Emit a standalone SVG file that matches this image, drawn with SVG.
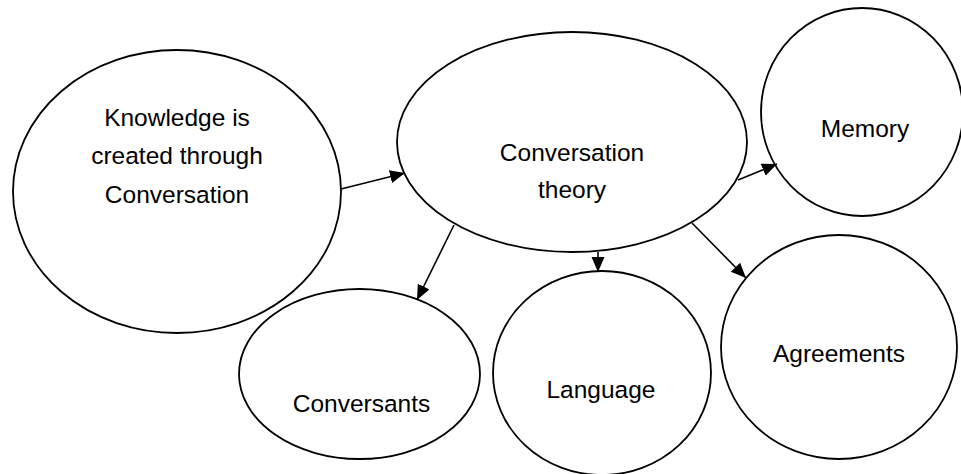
<svg xmlns="http://www.w3.org/2000/svg" width="961" height="474" viewBox="0 0 961 474">
  <style>
    .node ellipse { fill: #ffffff; stroke: #000000; stroke-width: 1.8; }
    .node text { font-family: "Liberation Sans", Arial, sans-serif; font-size: 24.5px; fill: #000000; text-anchor: middle; }
    .edge { stroke: #000000; stroke-width: 1.6; fill: none; marker-end: url(#arrow); }
  </style>
  <defs>
    <marker id="arrow" markerUnits="userSpaceOnUse" markerWidth="16" markerHeight="14" refX="15" refY="6.5" orient="auto">
      <path d="M0,0 L15,6.5 L0,13 z" fill="#000000"/>
    </marker>
  </defs>
  <rect width="961" height="474" fill="#ffffff"/>

  <g id="knowledge" class="node">
    <ellipse cx="177" cy="191.5" rx="164" ry="141.5"/>
    <text x="177" y="126">Knowledge is</text>
    <text x="177" y="164">created through</text>
    <text x="177" y="203">Conversation</text>
  </g>

  <g id="conversation-theory" class="node">
    <ellipse cx="572" cy="142" rx="175" ry="110"/>
    <text x="572" y="161">Conversation</text>
    <text x="572" y="198">theory</text>
  </g>

  <g id="memory" class="node">
    <ellipse cx="862" cy="112" rx="101" ry="104"/>
    <text x="865" y="137">Memory</text>
  </g>

  <g id="conversants" class="node">
    <ellipse cx="359.5" cy="374" rx="120.5" ry="85"/>
    <text x="361.5" y="412">Conversants</text>
  </g>

  <g id="language" class="node">
    <ellipse cx="602" cy="373" rx="109" ry="102"/>
    <text x="601" y="398">Language</text>
  </g>

  <g id="agreements" class="node">
    <ellipse cx="839" cy="347" rx="118" ry="112"/>
    <text x="839" y="362">Agreements</text>
  </g>

  <g id="connectors">
    <line class="edge" x1="341" y1="189" x2="405" y2="173"/>
    <line class="edge" x1="454" y1="225" x2="417" y2="300"/>
    <line class="edge" x1="598" y1="252" x2="598" y2="272"/>
    <line class="edge" x1="738" y1="180" x2="777" y2="164"/>
    <line class="edge" x1="692" y1="223" x2="746" y2="278"/>
  </g>
</svg>
